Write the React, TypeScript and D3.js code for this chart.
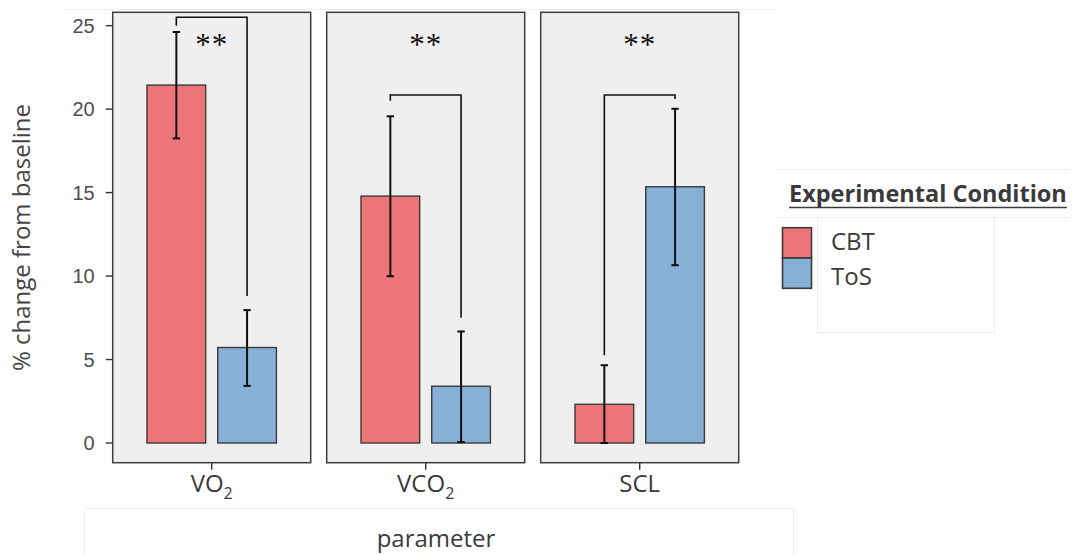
import { useEffect, useRef } from 'react';
import * as d3 from 'd3';

// ── data ───────────────────────────────────────────────────
const parameters = ['VO2', 'VCO2', 'SCL'];
const paramBase = ['VO', 'VCO', 'SCL'];
const paramSub = ['2', '2', ''];
const conditions = ['CBT', 'ToS'];

const cbtMean = [21.44, 14.79, 2.32];
const cbtLow = [18.25, 9.99, 0.0];
const cbtHigh = [24.62, 19.57, 4.66];

const tosMean = [5.72, 3.4, 15.35];
const tosLow = [3.42, 0.06, 10.65];
const tosHigh = [7.96, 6.68, 20.02];

// significance brackets: top + where each leg stops
const bracketTop = [25.5, 20.85, 20.85];
const bracketCbtEnd = [25.0, 20.5, 5.25];
const bracketTosEnd = [8.8, 7.5, 20.6];
const sigLabels = ['**', '**', '**'];

const yTicks = [0, 5, 10, 15, 20, 25];

const colors = { CBT: '#EE7577', ToS: '#87B0D6' };

export default function App() {
  const svgRef = useRef<SVGSVGElement | null>(null);

  useEffect(() => {
    const svg = d3.select(svgRef.current);
    svg.selectAll('*').remove();

    const W = 1083, H = 555;
    svg.attr('width', W).attr('height', H);

    // layout
    const panelTop = 12.3, panelBottom = 462.7;
    const panelW = 198, panelGap = 16, firstPanel = 112.7;
    const sans = "'Open Sans', 'Noto Sans', sans-serif";

    const y = d3.scaleLinear().domain([-1.18, 25.8]).range([panelBottom, panelTop]);

    const panelX = d3.scaleBand()
      .domain(parameters)
      .range([firstPanel, firstPanel + 3 * panelW + 2 * panelGap])
      .paddingInner(panelGap / (panelW + panelGap))
      .paddingOuter(0);

    // faint leftover frames from the original composite
    const faint = svg.append('g').attr('stroke', '#ececec').attr('stroke-width', 1).attr('fill', 'none');
    faint.append('line').attr('x1', 65).attr('x2', 777).attr('y1', 9.5).attr('y2', 9.5);
    faint.append('path').attr('d', 'M84.5,555 V508.5 H793.5 V555');
    faint.append('line').attr('x1', 775).attr('x2', 1070).attr('y1', 169.5).attr('y2', 169.5);
    faint.append('line').attr('x1', 775).attr('x2', 1070).attr('y1', 217.5).attr('y2', 217.5);
    faint.append('path').attr('d', 'M817.5,217.5 V332.5 H994.5 V217.5');

    // ── y axis ────────────────────────────────────────────
    const yAxis = svg.append('g');
    yAxis.selectAll('line').data(yTicks).join('line')
      .attr('x1', firstPanel - 7).attr('x2', firstPanel)
      .attr('y1', d => y(d)).attr('y2', d => y(d))
      .attr('stroke', '#333').attr('stroke-width', 1.4);
    yAxis.selectAll('text').data(yTicks).join('text')
      .attr('x', firstPanel - 18).attr('y', d => y(d))
      .attr('dy', '0.36em').attr('text-anchor', 'end')
      .attr('font-family', "'Liberation Sans', Arial, sans-serif")
      .attr('font-size', 20).attr('fill', '#4d4d4d')
      .text(d => d);

    svg.append('text')
      .attr('transform', `translate(30,${(panelTop + panelBottom) / 2}) rotate(-90)`)
      .attr('text-anchor', 'middle')
      .attr('font-family', sans).attr('font-size', 24).attr('fill', '#444')
      .text('% change from baseline');

    // ── panels ────────────────────────────────────────────
    parameters.forEach((p, i) => {
      const x0 = panelX(p) as number;
      const bw = panelX.bandwidth();
      const cx = x0 + bw / 2;
      const g = svg.append('g');

      g.append('rect')
        .attr('x', x0).attr('y', panelTop)
        .attr('width', bw).attr('height', panelBottom - panelTop)
        .attr('fill', '#EFEFEF').attr('stroke', '#3d3d3d').attr('stroke-width', 1.5);

      const xb = d3.scaleBand().domain(conditions)
        .range([x0, x0 + bw]).paddingInner(0.17).paddingOuter(0.485);

      const rows = [
        { c: 'CBT', m: cbtMean[i], lo: cbtLow[i], hi: cbtHigh[i], end: bracketCbtEnd[i] },
        { c: 'ToS', m: tosMean[i], lo: tosLow[i], hi: tosHigh[i], end: bracketTosEnd[i] },
      ];

      g.selectAll('rect.bar').data(rows).join('rect')
        .attr('class', 'bar')
        .attr('x', d => xb(d.c) as number).attr('width', xb.bandwidth())
        .attr('y', d => y(d.m)).attr('height', d => y(0) - y(d.m))
        .attr('fill', d => colors[d.c as 'CBT' | 'ToS'])
        .attr('stroke', '#3a3a3a').attr('stroke-width', 1.4);

      // error bars
      const mid = (c: string) => (xb(c) as number) + xb.bandwidth() / 2;
      const eb = g.append('g').attr('stroke', '#111').attr('stroke-width', 2);
      rows.forEach(d => {
        const mx = mid(d.c);
        eb.append('line').attr('x1', mx).attr('x2', mx).attr('y1', y(d.lo)).attr('y2', y(d.hi));
        eb.append('line').attr('x1', mx - 3.7).attr('x2', mx + 3.7).attr('y1', y(d.lo)).attr('y2', y(d.lo));
        eb.append('line').attr('x1', mx - 3.7).attr('x2', mx + 3.7).attr('y1', y(d.hi)).attr('y2', y(d.hi));
      });

      // bracket
      const path = d3.path();
      path.moveTo(mid('CBT'), y(rows[0].end));
      path.lineTo(mid('CBT'), y(bracketTop[i]));
      path.lineTo(mid('ToS'), y(bracketTop[i]));
      path.lineTo(mid('ToS'), y(rows[1].end));
      g.append('path').attr('d', path.toString())
        .attr('fill', 'none').attr('stroke', '#111').attr('stroke-width', 1.6);

      g.append('text')
        .attr('x', cx).attr('y', panelTop + 43)
        .attr('text-anchor', 'middle')
        .attr('font-family', "'Liberation Serif', serif").attr('font-size', 31)
        .attr('letter-spacing', 1).attr('fill', '#111')
        .text(sigLabels[i]);

      // x tick + label
      g.append('line')
        .attr('x1', cx).attr('x2', cx).attr('y1', panelBottom).attr('y2', panelBottom + 7)
        .attr('stroke', '#333').attr('stroke-width', 1.4);
      const t = g.append('text')
        .attr('x', cx).attr('y', 492).attr('text-anchor', 'middle')
        .attr('font-family', sans).attr('font-size', 24).attr('fill', '#3a3a3a');
      t.append('tspan').text(paramBase[i]);
      if (paramSub[i]) t.append('tspan').attr('font-size', 16).attr('dy', 7).text(paramSub[i]);
    });

    svg.append('text')
      .attr('x', 436).attr('y', 547).attr('text-anchor', 'middle')
      .attr('font-family', sans).attr('font-size', 24).attr('fill', '#3a3a3a')
      .text('parameter');

    // ── legend ────────────────────────────────────────────
    const title = svg.append('text')
      .attr('x', 789).attr('y', 202)
      .attr('font-family', sans).attr('font-size', 23.5).attr('font-weight', 700)
      .attr('fill', '#3a3a3a')
      .text('Experimental Condition');
    const tw = (title.node() as SVGTextElement).getComputedTextLength();
    svg.append('line')
      .attr('x1', 789).attr('x2', 789 + tw).attr('y1', 207.5).attr('y2', 207.5)
      .attr('stroke', '#3a3a3a').attr('stroke-width', 1.6);

    const keyY = d3.scaleBand().domain(conditions).range([227.7, 288.3]);
    const labelY = d3.scalePoint().domain(conditions).range([250, 285]);
    const lg = svg.append('g');
    lg.selectAll('rect').data(conditions).join('rect')
      .attr('x', 782.5).attr('y', d => keyY(d) as number)
      .attr('width', 29).attr('height', keyY.bandwidth())
      .attr('fill', d => colors[d as 'CBT' | 'ToS'])
      .attr('stroke', '#3a3a3a').attr('stroke-width', 1.6);
    lg.selectAll('text').data(conditions).join('text')
      .attr('x', 831).attr('y', d => labelY(d) as number)
      .attr('font-family', sans).attr('font-size', 24).attr('fill', '#3a3a3a')
      .text(d => d);
  }, []);

  return (
    <div style={{ position: 'fixed', left: 0, top: 0, background: '#fff' }}>
      <svg ref={svgRef} style={{ display: 'block' }} />
    </div>
  );
}
